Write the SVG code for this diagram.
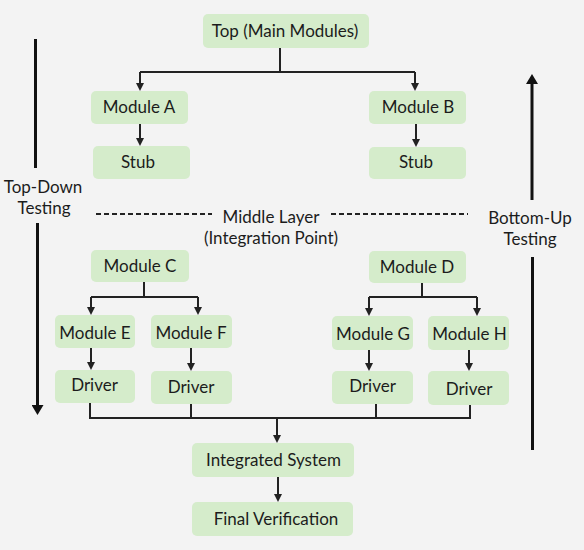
<svg xmlns="http://www.w3.org/2000/svg" width="584" height="550" viewBox="0 0 584 550">
<style>
.bg{fill:#f3f3f3}
.box{fill:#d5eccb;stroke:none}
.t{font-family:Lato,"Liberation Sans",sans-serif;font-size:17px;fill:#1c1c1c;text-anchor:middle}
.c{fill:none;stroke:#222;stroke-width:2}
.big{fill:none;stroke:#111;stroke-width:3}
.dash{fill:none;stroke:#222;stroke-width:2;stroke-dasharray:5 3}
</style>
<defs>
<marker id="ah" markerUnits="userSpaceOnUse" viewBox="0 0 8 8" refX="5" refY="4" markerWidth="8" markerHeight="8" orient="auto">
<path d="M0,0 L8,4 L0,8 Z" fill="#222"/>
</marker>
<marker id="bh" markerUnits="userSpaceOnUse" viewBox="0 0 10 12" refX="6" refY="6" markerWidth="10" markerHeight="12" orient="auto">
<path d="M0,0 L10,6 L0,12 Z" fill="#111"/>
</marker>
</defs>
<rect class="bg" x="0" y="0" width="584" height="550"/>

<g id="connectors">
<path class="c" d="M280,48 V72 M140,72 H415"/>
<path class="c" d="M140,72 V88" marker-end="url(#ah)"/>
<path class="c" d="M415,72 V88" marker-end="url(#ah)"/>
<path class="c" d="M140,124 V143" marker-end="url(#ah)"/>
<path class="c" d="M416,124 V144" marker-end="url(#ah)"/>
<path class="c" d="M144,282 V297 M91,297 H198"/>
<path class="c" d="M91,297 V312" marker-end="url(#ah)"/>
<path class="c" d="M198,297 V312" marker-end="url(#ah)"/>
<path class="c" d="M422,283 V297 M369,297 H477"/>
<path class="c" d="M369,297 V313" marker-end="url(#ah)"/>
<path class="c" d="M477,297 V313" marker-end="url(#ah)"/>
<path class="c" d="M91,348 V367" marker-end="url(#ah)"/>
<path class="c" d="M191,348 V368" marker-end="url(#ah)"/>
<path class="c" d="M369,350 V368" marker-end="url(#ah)"/>
<path class="c" d="M469,350 V368" marker-end="url(#ah)"/>
<path class="c" d="M90,403 V418 M191,404 V418 M376,404 V418 M470,405 V418 M89,418 H471"/>
<path class="c" d="M277,418 V440" marker-end="url(#ah)"/>
<path class="c" d="M278,477 V499" marker-end="url(#ah)"/>
</g>

<g id="top-down">
<path class="big" d="M35.5,39 V168"/>
<path class="big" d="M37.5,223 V411" marker-end="url(#bh)"/>
<text class="t" x="43" y="193">Top-Down</text>
<text class="t" x="44" y="213.5">Testing</text>
</g>

<g id="bottom-up">
<path class="big" d="M532,200 V78" marker-end="url(#bh)"/>
<path class="big" d="M532.5,257 V450"/>
<text class="t" x="530" y="224">Bottom-Up</text>
<text class="t" x="530" y="244.5">Testing</text>
</g>

<g id="middle-layer">
<path class="dash" d="M96,214 H212"/>
<path class="dash" d="M331,214 H468"/>
<text class="t" x="271" y="223">Middle Layer</text>
<text class="t" x="271" y="243.5">(Integration Point)</text>
</g>

<g id="top"><rect class="box" x="203" y="14" width="166" height="34" rx="5"/><text class="t" x="285" y="37">Top (Main Modules)</text></g>
<g id="moduleA"><rect class="box" x="91" y="91" width="97" height="33" rx="5"/><text class="t" x="139" y="113">Module A</text></g>
<g id="stubA"><rect class="box" x="93" y="146" width="97" height="33" rx="5"/><text class="t" x="138" y="168">Stub</text></g>
<g id="moduleB"><rect class="box" x="369" y="91" width="97" height="33" rx="5"/><text class="t" x="418" y="113">Module B</text></g>
<g id="stubB"><rect class="box" x="369" y="147" width="97" height="32" rx="5"/><text class="t" x="416" y="168">Stub</text></g>
<g id="moduleC"><rect class="box" x="91" y="250" width="98" height="32" rx="5"/><text class="t" x="140" y="272">Module C</text></g>
<g id="moduleD"><rect class="box" x="369" y="251" width="97" height="32" rx="5"/><text class="t" x="417" y="273">Module D</text></g>
<g id="moduleE"><rect class="box" x="55" y="315" width="80" height="33" rx="5"/><text class="t" x="95" y="339">Module E</text></g>
<g id="moduleF"><rect class="box" x="151" y="315" width="81" height="33" rx="5"/><text class="t" x="191" y="339">Module F</text></g>
<g id="moduleG"><rect class="box" x="332" y="316" width="81" height="34" rx="5"/><text class="t" x="373" y="340">Module G</text></g>
<g id="moduleH"><rect class="box" x="428" y="316" width="81" height="34" rx="5"/><text class="t" x="469.5" y="340">Module H</text></g>
<g id="driverE"><rect class="box" x="55" y="370" width="80" height="33" rx="5"/><text class="t" x="94.5" y="391">Driver</text></g>
<g id="driverF"><rect class="box" x="151" y="371" width="81" height="33" rx="5"/><text class="t" x="191" y="393">Driver</text></g>
<g id="driverG"><rect class="box" x="332" y="371" width="81" height="33" rx="5"/><text class="t" x="372.5" y="392">Driver</text></g>
<g id="driverH"><rect class="box" x="428" y="371" width="81" height="34" rx="5"/><text class="t" x="469" y="395">Driver</text></g>
<g id="integrated"><rect class="box" x="192" y="443" width="162" height="34" rx="5"/><text class="t" x="273.5" y="466">Integrated System</text></g>
<g id="final"><rect class="box" x="192" y="502" width="161" height="34" rx="5"/><text class="t" x="276" y="525">Final Verification</text></g>
</svg>
